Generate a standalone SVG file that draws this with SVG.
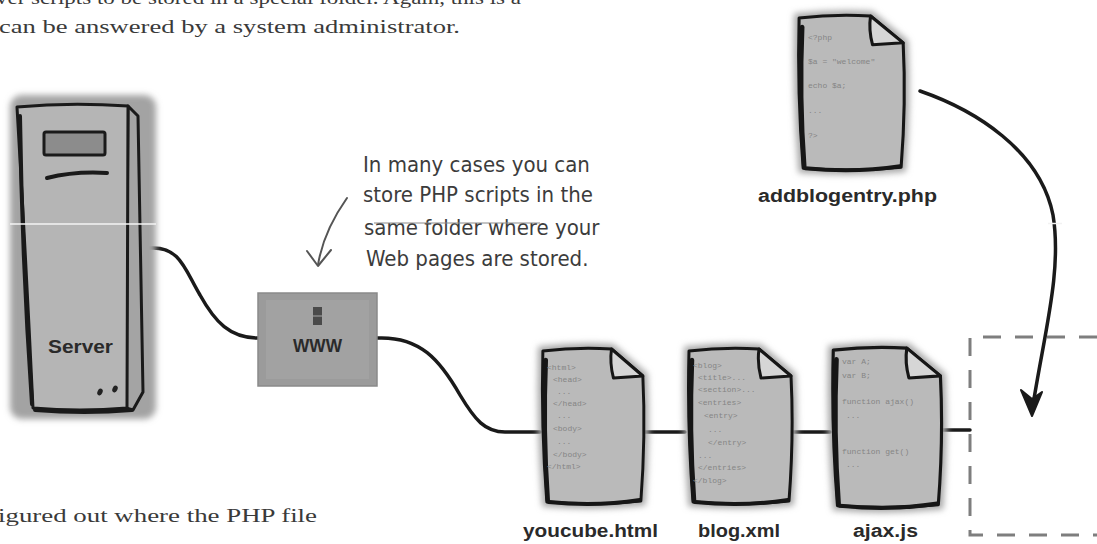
<svg xmlns="http://www.w3.org/2000/svg" xmlns:xlink="http://www.w3.org/1999/xlink" width="1097" height="544" viewBox="0 0 1097 544">
  <style>
    .body-text { font-family: "Liberation Serif", "DejaVu Serif", serif; font-size: 19px; fill: #3a3a3a; }
    .hand { font-family: "DejaVu Sans Condensed", "DejaVu Sans", sans-serif; font-size: 22px; fill: #3c3c3c; }
    .label { font-family: "Liberation Sans", Arial, sans-serif; font-weight: bold; font-size: 18px; fill: #2a2a2a; }
    .code { font-family: "Liberation Mono", "DejaVu Sans Mono", monospace; font-size: 8px; fill: #858585; }
    .ink { fill: none; stroke: #1a1a1a; stroke-width: 3.5; stroke-linecap: round; stroke-linejoin: round; }
    .pencil { fill: none; stroke: #555; stroke-width: 2; stroke-linecap: round; stroke-linejoin: round; }
    .dash { fill: none; stroke: #7e7e7e; stroke-width: 3; stroke-dasharray: 18 14; }
  </style>
  <defs>
    <filter id="soft" x="-20%" y="-20%" width="140%" height="140%">
      <feGaussianBlur stdDeviation="3"/>
    </filter>
    <!-- sheet of paper with a folded corner, 110 x 160 -->
    <g id="page">
      <path d="M6,5 Q40,1 76,3 L108,30 Q111,90 106,155 Q60,160 10,156 Q4,80 6,5 Z" fill="#a9a9a9" stroke="#a9a9a9" stroke-width="10" filter="url(#soft)"/>
      <path d="M6,5 Q40,1 76,3 L108,30 Q111,90 106,155 Q60,160 10,156 Q4,80 6,5 Z" fill="#bababa" stroke="#161616" stroke-width="3" stroke-linejoin="round"/>
      <path d="M9,14 Q6,85 11,154" fill="none" stroke="#161616" stroke-width="4.5" stroke-linecap="round"/>
      <path d="M12,156 Q60,161 105,154" fill="none" stroke="#161616" stroke-width="4" stroke-linecap="round"/>
      <path d="M76,3 Q74,17 78,32 L108,30 Z" fill="#d6d6d6" stroke="#161616" stroke-width="3" stroke-linejoin="round"/>
    </g>
  </defs>

  <rect width="1097" height="544" fill="#ffffff"/>

  <!-- running text above and below the figure -->
  <text class="body-text" x="-4" y="4" textLength="525" lengthAdjust="spacingAndGlyphs">ver scripts to be stored in a special folder. Again, this is a</text>
  <text class="body-text" x="-1" y="33" textLength="461" lengthAdjust="spacingAndGlyphs">can be answered by a system administrator.</text>
  <text class="body-text" x="-2" y="522" textLength="319" lengthAdjust="spacingAndGlyphs">igured out where the PHP file</text>

  <!-- connectors -->
  <g id="connectors">
    <path class="ink" d="M150,248 C180,246 185,270 200,295 C215,322 230,338 258,338"/>
    <path class="ink" d="M377,338 C420,336 440,360 460,395 C475,420 485,432 505,432 L540,432"/>
    <path class="ink" d="M644,432 L685,432"/>
    <path class="ink" d="M792,432 L830,432"/>
    <path class="ink" d="M942,430 L970,430"/>
    <!-- the new script travels down into the web folder -->
    <path class="ink" d="M920,91 C975,110 1040,150 1053,215 C1062,270 1045,330 1033,405"/>
    <path d="M1021,390 L1032,416 L1042,392 L1032,399 Z" fill="#1a1a1a" stroke="#1a1a1a" stroke-width="2" stroke-linejoin="round"/>
    <line x1="1048" y1="223.5" x2="1062" y2="223.5" stroke="#f2f2f2" stroke-width="1.5"/>
    <!-- pencil pointer from the note -->
    <path class="pencil" d="M347,198 C335,215 322,240 318,265"/>
    <path class="pencil" d="M307,251 L318,266 L331,250"/>
  </g>

  <!-- server tower -->
  <g id="server">
    <rect x="10" y="95" width="146" height="324" rx="12" fill="#a3a3a3" filter="url(#soft)"/>
    <path d="M128,106 L138,116 L143,392 L133,410 L126,408 Z" fill="#a4a4a4" stroke="#1a1a1a" stroke-width="3" stroke-linejoin="round"/>
    <path d="M17,107 Q70,102 128,106 L127,408 Q80,412 33,408 Q26,260 17,107 Z" fill="#b5b5b5" stroke="#1a1a1a" stroke-width="3" stroke-linejoin="round"/>
    <path d="M20,116 Q22,260 32,404" fill="none" stroke="#1a1a1a" stroke-width="4" stroke-linecap="round"/>
    <path d="M35,410 Q85,414 132,410" fill="none" stroke="#1a1a1a" stroke-width="4" stroke-linecap="round"/>
    <rect x="44" y="132" width="61" height="23" rx="2" fill="#8c8c8c" stroke="#1a1a1a" stroke-width="3"/>
    <path d="M47,178 Q75,171 107,173" fill="none" stroke="#1a1a1a" stroke-width="4" stroke-linecap="round"/>
    <text class="label" x="48" y="353" textLength="65" lengthAdjust="spacingAndGlyphs">Server</text>
    <ellipse cx="100" cy="392" rx="2.5" ry="3.5" transform="rotate(25 100 392)" fill="#222"/>
    <ellipse cx="115" cy="389" rx="2.5" ry="3.5" transform="rotate(25 115 389)" fill="#222"/>
    <line x1="10" y1="224" x2="156" y2="224" stroke="#f4f4f4" stroke-width="1.5"/>
  </g>

  <!-- web folder box -->
  <g id="www">
    <rect x="258" y="293" width="119" height="93" fill="#9b9b9b" stroke="#8a8a8a" stroke-width="1.5"/>
    <rect x="266" y="300" width="103" height="79" fill="#a2a2a2"/>
    <rect x="313" y="307" width="9" height="18" fill="#4a4a4a"/>
    <line x1="313" y1="316" x2="322" y2="316" stroke="#8a8a8a" stroke-width="1.5"/>
    <text class="label" x="293" y="352" font-size="16" textLength="49" lengthAdjust="spacingAndGlyphs" fill="#333">WWW</text>
  </g>

  <!-- handwritten note -->
  <g id="note">
    <text class="hand" x="363" y="172">In many cases you can</text>
    <text class="hand" x="363" y="202">store PHP scripts in the</text>
    <text class="hand" x="364" y="235">same folder where your</text>
    <text class="hand" x="366" y="266">Web pages are stored.</text>
    <line x1="374" y1="223" x2="540" y2="223" stroke="#8a8a8a" stroke-width="1"/>
  </g>

  <!-- files -->
  <g id="addblogentry">
    <use xlink:href="#page" transform="translate(793,13) scale(1.02,0.995)"/>
    <text class="code" x="808" y="40">&lt;?php</text>
    <text class="code" x="808" y="64">$a = "welcome"</text>
    <text class="code" x="808" y="88">echo $a;</text>
    <text class="code" x="808" y="113">...</text>
    <text class="code" x="808" y="138">?&gt;</text>
    <text class="label" x="758" y="202" textLength="179" lengthAdjust="spacingAndGlyphs">addblogentry.php</text>
  </g>

  <g id="youcube">
    <use xlink:href="#page" transform="translate(537,346) scale(0.98,1)"/>
    <text class="code" x="547" y="370">&lt;html&gt;</text>
    <text class="code" x="553" y="382">&lt;head&gt;</text>
    <text class="code" x="557" y="394">...</text>
    <text class="code" x="553" y="406">&lt;/head&gt;</text>
    <text class="code" x="557" y="418">...</text>
    <text class="code" x="553" y="431">&lt;body&gt;</text>
    <text class="code" x="557" y="444">...</text>
    <text class="code" x="553" y="457">&lt;/body&gt;</text>
    <text class="code" x="547" y="469">&lt;/html&gt;</text>
    <text class="label" x="523" y="537" textLength="135" lengthAdjust="spacingAndGlyphs">youcube.html</text>
  </g>

  <g id="blog">
    <use xlink:href="#page" transform="translate(683,346)"/>
    <text class="code" x="693" y="368">&lt;blog&gt;</text>
    <text class="code" x="698" y="380">&lt;title&gt;...</text>
    <text class="code" x="698" y="392">&lt;section&gt;...</text>
    <text class="code" x="698" y="405">&lt;entries&gt;</text>
    <text class="code" x="704" y="418">&lt;entry&gt;</text>
    <text class="code" x="708" y="432">...</text>
    <text class="code" x="708" y="445">&lt;/entry&gt;</text>
    <text class="code" x="698" y="458">...</text>
    <text class="code" x="698" y="470">&lt;/entries&gt;</text>
    <text class="code" x="693" y="483">&lt;/blog&gt;</text>
    <text class="label" x="698" y="537" textLength="82" lengthAdjust="spacingAndGlyphs">blog.xml</text>
  </g>

  <g id="ajax">
    <use xlink:href="#page" transform="translate(827,345) scale(1.05,1.03)"/>
    <text class="code" x="842" y="364">var A;</text>
    <text class="code" x="842" y="378">var B;</text>
    <text class="code" x="842" y="404">function ajax()</text>
    <text class="code" x="846" y="418">...</text>
    <text class="code" x="842" y="454">function get()</text>
    <text class="code" x="846" y="467">...</text>
    <text class="label" x="853" y="537" textLength="65" lengthAdjust="spacingAndGlyphs">ajax.js</text>
  </g>

  <!-- dashed outline of the folder on the server -->
  <g id="folder">
    <path class="dash" d="M1097,337 L970,337 L970,535 L1097,535"/>
  </g>
</svg>
